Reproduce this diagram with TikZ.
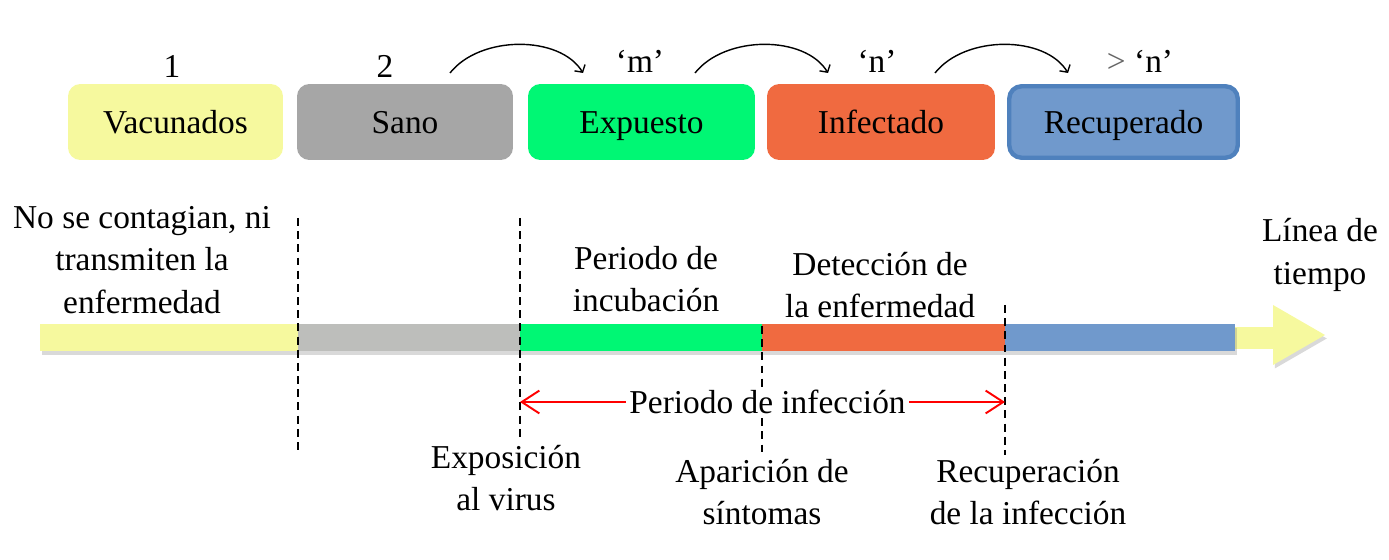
\documentclass[tikz,border=0pt]{standalone}
\usepackage{fontspec}
\setmainfont{Liberation Serif}
\usetikzlibrary{arrows.meta,shadows}

\definecolor{amarillo}{HTML}{F6F99E}
\definecolor{gris}{HTML}{A6A6A6}
\definecolor{grisbarra}{HTML}{BDBEBB}
\definecolor{verde}{HTML}{00F774}
\definecolor{naranja}{HTML}{F06A40}
\definecolor{azul}{HTML}{7099CC}
\definecolor{azulborde}{HTML}{4F81BD}

\tikzset{
	estado/.style={rounded corners=7pt, minimum height=1.52cm, inner sep=0pt, text height=13.6pt, text depth=0pt, font=\fontsize{19}{23}\selectfont},
	texto/.style={align=center, font=\fontsize{19}{24}\selectfont},
	limite/.style={dash pattern=on 4.5pt off 3pt, line width=1.1pt},
	paso/.style={-{Straight Barb[length=3pt,width=7pt]}, line width=0.8pt},
	infeccion/.style={red, line width=1.1pt, {Straight Barb[length=10pt,width=13pt]}-{Straight Barb[length=10pt,width=13pt]}}
}

\begin{document}
\begin{tikzpicture}[x=0.02cm,y=-0.02cm]
		\useasboundingbox (0,0) rectangle (1389,560);
		
		% Estados
		\node[estado, fill=amarillo, minimum width=4.3cm] (vacunados) at (175.5,122) {Vacunados};
		\node[estado, fill=gris, minimum width=4.32cm] (sano) at (405,122) {Sano};
		\node[estado, fill=verde, minimum width=4.54cm] (expuesto) at (641.5,122) {Expuesto};
		\node[estado, fill=naranja, minimum width=4.56cm] (infectado) at (881,122) {Infectado};
		\node[estado, fill=azul, draw=azulborde, line width=2.5pt, minimum width=4.57cm, minimum height=1.43cm] (recuperado) at (1123.5,122) {Recuperado};
		
		\node[texto] (uno) at (172,66) {1};
		\node[texto] (dos) at (385,66) {2};
		\node[texto] (eme) at (640,61) {‘m’};
		\node[texto] (ene) at (877,61) {‘n’};
		\node[texto] (masene) at (1140,61) {{\color{black!60}>} ‘n’};
		
		% Flechas curvas
		\coordinate (ini1) at (450,73);
		\coordinate (fin1) at (583,73);
		\coordinate (ini2) at (695,73);
		\coordinate (fin2) at (828,73);
		\coordinate (ini3) at (935,73);
		\coordinate (fin3) at (1068,73);
		\draw[paso] (ini1) .. controls (480,35) and (560,35) .. (fin1);
		\draw[paso] (ini2) .. controls (725,35) and (805,35) .. (fin2);
		\draw[paso] (ini3) .. controls (965,35) and (1045,35) .. (fin3);
		
		% Linea de tiempo
		\fill[amarillo, drop shadow={opacity=0.3,shadow xshift=1pt,shadow yshift=-2pt}] (1273,305) -- (1325,335) -- (1273,365) -- cycle;
		\fill[amarillo] (1230,327) rectangle (1276,349);
		\fill[amarillo, drop shadow={opacity=0.3,shadow xshift=1pt,shadow yshift=-2pt}] (40,324) rectangle (1235,351);
		\fill[grisbarra] (298,324) rectangle (520,351);
		\fill[verde] (520,324) rectangle (762,351);
		\fill[naranja] (762,324) rectangle (1005,351);
		\fill[azul] (1005,324) rectangle (1235,351);
		
		% Limites
		\coordinate (l1a) at (298,218);
		\coordinate (l1b) at (298,450);
		\coordinate (l2a) at (520,218);
		\coordinate (l2b) at (520,440);
		\coordinate (l3a) at (762,326);
		\coordinate (l3b) at (762,452);
		\coordinate (l4a) at (1005,305);
		\coordinate (l4b) at (1005,455);
		\draw[limite] (l1a) -- (l1b);
		\draw[limite] (l2a) -- (l2b);
		\draw[limite] (l3a) -- (l3b);
		\draw[limite] (l4a) -- (l4b);
		
		% Periodo de infeccion
		\coordinate (p1) at (520,402);
		\coordinate (p2) at (1005,402);
		\draw[infeccion] (p1) -- (p2) node[midway, xshift=0.1cm, fill=white, text=black, texto, inner sep=2pt] (periodo) {Periodo de infección};
		
		% Textos
		\node[texto] (nocontagian) at (142,260) {No se contagian, ni\\transmiten la\\enfermedad};
		\node[texto] (incubacion) at (646,279) {Periodo de\\incubación};
		\node[texto] (deteccion) at (880,285) {Detección de\\la enfermedad};
		\node[texto] (linea) at (1320,255) {Línea de\\tiempo};
		\node[texto] (exposicion) at (506,478) {Exposición\\al virus};
		\node[texto] (aparicion) at (762,492) {Aparición de\\síntomas};
		\node[texto] (recuperacion) at (1028,492) {Recuperación\\de la infección};
		
	\end{tikzpicture}
\end{document}
